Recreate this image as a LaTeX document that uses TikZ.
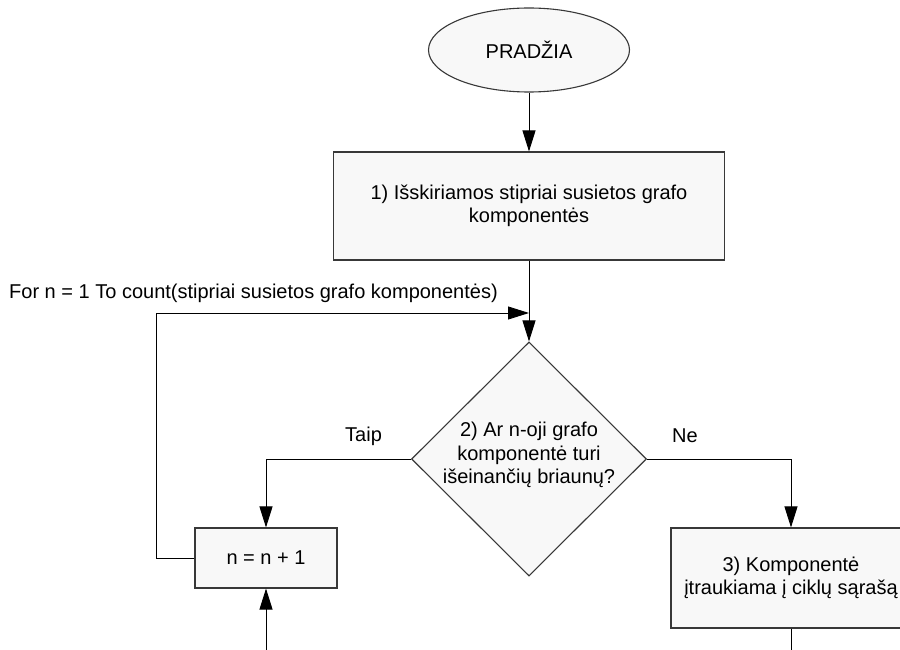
\documentclass[tikz,border=0pt]{standalone}
\usepackage{fontspec}
\setmainfont{Liberation Sans}
\usetikzlibrary{shapes.geometric,arrows.meta}
\definecolor{boxfill}{HTML}{F8F8F8}
\definecolor{edgegray}{HTML}{383838}
\begin{document}
\begin{tikzpicture}[x=1pt,y=-1pt,
  every node/.style={font=\fontsize{20}{23.5}\selectfont},
  shapebox/.style={draw=edgegray, line width=1.1pt, fill=boxfill, inner sep=0pt, align=center},
  flow/.style={draw=black, line width=0.9pt, -{Triangle[length=21pt,width=13pt]}},
  plain/.style={draw=black, line width=0.9pt},
  label/.style={anchor=base west, inner sep=0pt}]
\useasboundingbox (0,0) rectangle (900,650);
\clip (0,0) rectangle (900,650);

% shapes of the flowchart
\node[shapebox, ellipse, minimum width=201pt, minimum height=84pt] (start) at (529,50) {PRADŽIA};
\node[shapebox, rectangle, minimum width=391pt, minimum height=108pt] (b1) at (529,206)
  {1) Išskiriamos stipriai susietos grafo\\komponentės};
\node[shapebox, diamond, minimum width=235pt, minimum height=234pt] (dec) at (529,459) {};
\node[align=center, inner sep=0pt] (dectext) at (529,455)
  {2) Ar n-oji grafo\\komponentė turi\\išeinančių briaunų?};
\node[shapebox, rectangle, minimum width=142pt, minimum height=60pt] (nbox) at (266,558) {n = n + 1};
\node[shapebox, rectangle, minimum width=240pt, minimum height=100pt] (b3) at (791,578)
  {3) Komponentė\\įtraukiama į ciklų sąrašą};

% labels
\node[label] (forlbl) at (9,298) {For n = 1 To count(stipriai susietos grafo komponentės)};
\node[label] (taip) at (345,441) {Taip};
\node[label] (ne) at (672,442) {Ne};

% helper points
\coordinate (j) at (529,313);
\coordinate (lc) at (156,313);
\coordinate (nin) at (266,652);
\coordinate (b3out) at (791,652);

% connectors
\draw[flow] (start.south) -- (b1.north);
\draw[flow] (b1.south) -- (dec.north);
\draw[flow] (nbox.west) -| (lc) -- (j);
\draw[flow] (dec.west) -| (nbox.north);
\draw[flow] (dec.east) -| (b3.north);
\draw[flow] (nin) -- (nbox.south);
\draw[plain] (b3.south) -- (b3out);
\end{tikzpicture}
\end{document}
